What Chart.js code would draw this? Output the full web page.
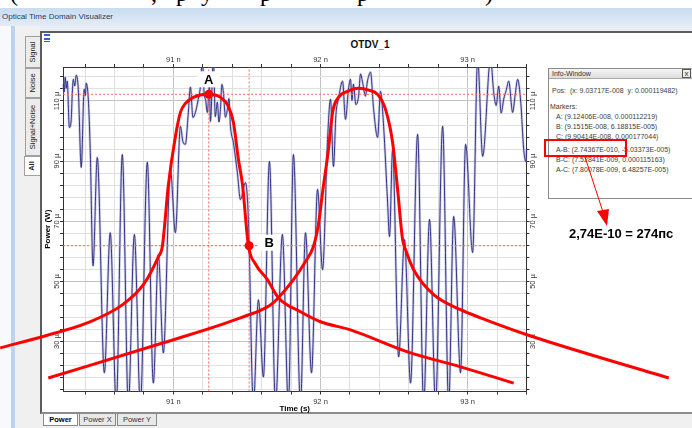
<!DOCTYPE html>
<html>
<head>
<meta charset="utf-8">
<script src="https://cdn.jsdelivr.net/npm/chart.js@4.4.0/dist/chart.umd.min.js"></script>
<style>
* { box-sizing: border-box; }
body { margin: 0; width: 692px; height: 428px; overflow: hidden; background: #fff; position: relative; font-family: "Liberation Sans", Arial, sans-serif; }
.a { position: absolute; }
#doc span { position: absolute; top: -19px; font: 24px/24px "Liberation Serif", serif; color: #000; }
#bar { left: 0; top: 8px; width: 692px; height: 18px; background: linear-gradient(#c9dcf0, #e3ecf7); font-size: 8px; line-height: 18px; color: #1e3d6b; padding-left: 2px; z-index: 2; }
#under { left: 0; top: 26px; width: 692px; height: 402px; background: #e9eef5; }
#lwhite { left: 0; top: 26px; width: 11px; height: 402px; background: #f7f9fc; }
#lblue { left: 11px; top: 26px; width: 4px; height: 402px; background: #bcd3ec; }
#tabs { left: 15px; top: 26px; width: 25px; height: 402px; background: #f0f0f0; }
.vt { position: absolute; left: 25px; height: 15px; transform: rotate(-90deg); transform-origin: 0 0; border: 1px solid #a0a0a0; border-bottom: none; background: #ececec; font-size: 7.5px; line-height: 13px; text-align: center; color: #222; white-space: nowrap; }
#frame { left: 40px; top: 31px; width: 652px; height: 383px; background: #fff; border-left: 2px solid #5c5c5c; border-top: 2px solid #5c5c5c; border-bottom: 2px solid #8c8c8c; }
#icon { left: 44px; top: 34px; width: 6px; height: 8px; background: linear-gradient(#3a5fd0 0 30%, #fff 30% 45%, #3a5fd0 45% 75%, #fff 75% 85%, #3a5fd0 85%); }
#ttl { left: 330px; top: 39px; width: 80px; text-align: center; font-weight: bold; font-size: 10px; line-height: 12px; color: #111; }
#btabs { left: 40px; top: 414px; width: 652px; height: 14px; background: #f0f0f0; }
.bt { position: absolute; top: 414px; height: 12px; border: 1px solid #8a8a8a; border-top: none; background: #e8e8e8; font-size: 7.5px; line-height: 11px; text-align: center; color: #333; }
#chart { position: absolute; left: 0; top: 0; z-index: 5; }
#info { left: 548px; top: 68px; width: 150px; height: 131px; border: 1px solid #8a8a8a; background: #fff; z-index: 6; }
#infot { position: absolute; left: 0; top: 0; width: 100%; height: 10px; background: linear-gradient(#f6f6f6, #dcdcdc); border-bottom: 1px solid #aaa; font-size: 7px; line-height: 10px; padding-left: 3px; color: #333; }
#infox { position: absolute; left: 133px; top: 0px; width: 9px; height: 9px; border: 1px solid #555; font-size: 8px; line-height: 7px; text-align: center; color: #333; background: #eee; }
.il { position: absolute; height: 9px; line-height: 9px; font-size: 7px; white-space: nowrap; color: #3c3c3c; }
#rbox { left: 544px; top: 139px; width: 83px; height: 18px; border: 2.5px solid #f00; z-index: 7; }
#arrow { left: 0; top: 0; z-index: 7; }
#note { left: 569px; top: 226px; font-weight: bold; font-size: 13px; line-height: 16px; color: #000; z-index: 7; white-space: nowrap; }
</style>
</head>
<body>
<div id="doc" class="a" style="left:0;top:0;width:692px;height:8px;overflow:hidden">
  <span style="left:10px">(</span><span style="left:151px">,</span><span style="left:176px">р</span><span style="left:201px">у</span><span style="left:260px">р</span><span style="left:357px">р</span><span style="left:485px">)</span>
</div>
<div id="bar" class="a">Optical Time Domain Visualizer</div>
<div id="under" class="a"></div>
<div id="lwhite" class="a"></div>
<div id="lblue" class="a"></div>
<div id="tabs" class="a"></div>
<div class="vt" style="top:68px;width:32px">Signal</div>
<div class="vt" style="top:98px;width:30px">Noise</div>
<div class="vt" style="top:156px;width:58px">Signal+Noise</div>
<div class="vt" style="top:176px;width:20px;background:#fff;font-weight:bold;left:24px;height:16px">All</div>
<div id="frame" class="a"></div>
<div id="icon" class="a"></div>
<div id="ttl" class="a">OTDV_1</div>
<div id="btabs" class="a"></div>
<div class="bt" style="left:43px;width:35px;background:#fff;font-weight:bold;color:#000">Power</div>
<div class="bt" style="left:79px;width:37px">Power X</div>
<div class="bt" style="left:117px;width:40px">Power Y</div>

<canvas id="chart" width="692" height="428"></canvas>

<div id="info" class="a">
  <div id="infot">Info-Window</div>
  <div id="infox">x</div>
  <div class="il" style="left:3px;top:17px">Pos:&nbsp; (x: 9.03717E-008&nbsp; y: 0.000119482)</div>
  <div class="il" style="left:1px;top:33px">Markers:</div>
  <div class="il" style="left:7px;top:43px">A: (9.12406E-008, 0.000112219)</div>
  <div class="il" style="left:7px;top:53px">B: (9.1515E-008, 6.18815E-005)</div>
  <div class="il" style="left:7px;top:63px">C: (9.90414E-008, 0.000177044)</div>
  <div class="il" style="left:7px;top:76px">A-B: (2.74367E-010, -5.03373E-005)</div>
  <div class="il" style="left:7px;top:86px">B-C: (7.52841E-009, 0.000115163)</div>
  <div class="il" style="left:7px;top:96px">A-C: (7.80078E-009, 6.48257E-005)</div>
</div>
<div id="rbox" class="a"></div>
<svg id="arrow" class="a" width="692" height="428">
  <line x1="585" y1="157" x2="603" y2="212" stroke="#f00" stroke-width="1"/>
  <polygon points="597,211 609,209 607,226" fill="#f00"/>
</svg>
<div id="note" class="a">2,74E-10 = 274пс</div>

<script>
// measured trace, time in ns, power in µW
const sigT = [90.252, 90.258, 90.265, 90.272, 90.279, 90.293, 90.306, 90.313, 90.320, 90.330, 90.340, 90.354, 90.374, 90.394, 90.401, 90.408, 90.422, 90.435, 90.454,
  90.483, 90.531, 90.571, 90.612, 90.653, 90.694, 90.735, 90.776, 90.823, 90.864, 90.898, 90.932, 90.980, 91.014,
  91.048, 91.065, 91.082, 91.100, 91.116, 91.133, 91.150, 91.167, 91.184, 91.197, 91.210, 91.218, 91.231, 91.245, 91.252, 91.272, 91.285, 91.299, 91.310, 91.320, 91.330, 91.340, 91.354, 91.367,
  91.378, 91.388, 91.408, 91.435, 91.456, 91.490, 91.510, 91.544, 91.578, 91.612, 91.653, 91.694, 91.741, 91.782, 91.816,
  91.864, 91.898, 91.939, 91.980, 92.014, 92.048, 92.068, 92.088, 92.105, 92.122, 92.150, 92.170, 92.190, 92.204, 92.214, 92.224,
  92.240, 92.259, 92.272, 92.286, 92.306, 92.317, 92.327, 92.340, 92.361, 92.388, 92.408, 92.429, 92.456, 92.469, 92.490, 92.531, 92.571,
  92.612, 92.660, 92.701, 92.741, 92.782, 92.830, 92.871, 92.905, 92.952, 92.986, 93.034, 93.068, 93.102, 93.156,
  93.177, 93.194, 93.211, 93.228, 93.245, 93.262, 93.279, 93.306, 93.323, 93.340, 93.361, 93.381, 93.395, 93.401];
const sigP = [115.6, 113.0, 117.9, 114.2, 116.6, 101.2, 103.9, 112.5, 117.2, 115.0, 118.6, 113.9, 87.9, 113.9, 111.8, 115.9, 110.6, 93.9, 55.2,
  91.2, 19.6, 66.2, 9, 92.2, 9, 65.6, 9, 89.6, 16.2, 58.9, 26.2, 87.2, 66.2,
  101.6, 96.5, 95.6, 105.0, 114.6, 104.5, 106.2, 110.0, 114.9, 124, 112.0, 110.6, 106.2, 115.2, 103.2, 124, 104.8, 109.6, 103.0, 107.2, 115.5, 112.9, 104.6, 107.2,
  110.8, 101.6, 96.2, 86.2, 77.2, 82.9, 70.6, 9, 43.9, 18.2, 89.9, 9, 65.6, 9, 92.2,
  9, 66.2, 19.6, 80.6, 53.9, 97.2, 110.6, 88.2, 105.5, 110.6, 116.6, 103.9, 113.9, 117.2, 110.2, 115.6,
  108.8, 111.6, 119.0, 116.2, 111.6, 116.0, 118.2, 119.6, 107.2, 97.9, 113.2, 101.6, 76.2, 64.9, 93.9, 24.9, 63.9,
  16.2, 98.9, 9, 70.6, 9, 101.6, 9, 71.6, 19.6, 95.6, 59.6, 124, 91.6, 124,
  112.9, 108.5, 114.9, 106.0, 110.6, 113.5, 116.6, 106.2, 112.0, 117.2, 109.6, 93.9, 89.9, 93.9];

// hand-drawn red envelopes
const curve1T = [89.823, 90.150, 90.415, 90.653, 90.796, 90.898, 90.925, 90.966, 91.014, 91.048, 91.082, 91.136, 91.231,
  91.320, 91.374, 91.408, 91.442, 91.469, 91.510, 91.558, 91.639, 91.714, 91.864, 92.000, 92.204, 92.592, 92.952, 93.313];
const curve1P = [27.9, 32.2, 36.2, 42.2, 48.9, 58.2, 61.6, 82.0, 98.2, 106.2, 109.2, 111.2, 112.2,
  111.2, 108.2, 102.9, 90.6, 82.5, 61.9, 55.8, 50.6, 44.6, 39.9, 36.6, 33.9, 26.6, 21.6, 16.2];
const curve2T = [90.150, 90.932, 91.456, 91.660, 91.714, 91.816, 91.898, 91.952, 91.986, 92.014, 92.054, 92.082, 92.122,
  92.184, 92.259, 92.327, 92.388, 92.442, 92.490, 92.524, 92.558, 92.578, 92.633, 92.769, 92.952, 93.088, 93.408, 94.367];
const curve2P = [17.9, 29.6, 37.9, 42.2, 44.6, 50.6, 56.6, 61.6, 68.9, 79.6, 93.9, 106.2, 111.2,
  113.2, 114.2, 113.6, 112.2, 107.2, 96.2, 80.6, 63.9, 60.6, 53.9, 45.6, 40.6, 37.9, 32.2, 17.9];

const markerNames = ['A', 'B'];
const markerT = [91.2406, 91.515];
const markerP = [112.219, 61.8815];

const xMajor = [91, 92, 93];
const yMajor = [30, 50, 70, 90, 110];
const xRange = [90.25, 93.4];
const yRange = [13.4, 121.3];

const xGrid = [];
for (let k = 452; k <= 467; k++) xGrid.push(k / 5);
const yGrid = [];
for (let v = 14; v <= 118; v += 4) yGrid.push(v);

const labelOffsets = [[0, -15], [20, -3]];

const pts = (t, p) => t.map((v, i) => ({ x: v, y: p[i] }));
const isMajor = (list, v) => list.some(m => Math.abs(m - v) < 1e-6);

Chart.defaults.font.family = '"Liberation Sans", Arial, sans-serif';

function xScale(pos) {
  return {
    type: 'linear', position: pos, bounds: 'data',
    afterDataLimits: s => { s.min = xRange[0]; s.max = xRange[1]; },
    afterBuildTicks: s => { s.ticks = xGrid.map(v => ({ value: v })); },
    afterFit: s => { s.height = pos === 'top' ? 67 : 22.5; },
    grid: {
      drawOnChartArea: pos === 'bottom',
      color: c => isMajor(xMajor, c.tick.value) ? '#c2c2c2' : '#e0e0e0',
      tickColor: '#333', tickLength: 3
    },
    border: { color: '#333' },
    ticks: {
      autoSkip: false, maxRotation: 0, padding: pos === 'top' ? 0 : 2.7, color: '#333', font: { size: 7.5 },
      callback: v => isMajor(xMajor, v) ? Math.round(v) + ' n' : ''
    },
    title: pos === 'bottom'
      ? { display: true, text: 'Time (s)', color: '#000', font: { size: 8, weight: 'bold' }, padding: 0 }
      : { display: false }
  };
}

function yScale(pos) {
  return {
    type: 'linear', position: pos, min: yRange[0], max: yRange[1],
    afterBuildTicks: s => { s.ticks = yGrid.map(v => ({ value: v })); },
    afterFit: s => { s.width = pos === 'left' ? 23 : 165.5; },
    grid: {
      drawOnChartArea: pos === 'left',
      color: c => isMajor(yMajor, c.tick.value) ? '#c2c2c2' : '#e0e0e0',
      tickColor: '#333', tickLength: 3
    },
    border: { color: '#333' },
    ticks: {
      autoSkip: false, minRotation: 90, maxRotation: 90, crossAlign: 'center',
      padding: pos === 'left' ? -5.8 : -5.5, color: '#333', font: { size: 7.5 },
      callback: v => isMajor(yMajor, v) ? v + ' µ' : ''
    },
    title: pos === 'left'
      ? { display: true, text: 'Power (W)', color: '#000', font: { size: 8, weight: 'bold' }, padding: { top: 2.5 } }
      : { display: false }
  };
}

const crossLines = [];
markerT.forEach((t, i) => {
  crossLines.push({ data: [{ x: xRange[0], y: markerP[i] }, { x: xRange[1], y: markerP[i] }] });
  crossLines.push({ data: [{ x: t, y: yRange[0] }, { x: t, y: yRange[1] }] });
});

const markerLabels = {
  id: 'markerLabels',
  afterDatasetsDraw(chart) {
    const meta = chart.getDatasetMeta(0);
    const ctx = chart.ctx;
    ctx.save();
    ctx.font = 'bold 13px "Liberation Sans", Arial';
    ctx.textAlign = 'center';
    ctx.textBaseline = 'middle';
    meta.data.forEach((pt, i) => {
      const cx = pt.x + labelOffsets[i][0];
      const cy = pt.y + labelOffsets[i][1];
      ctx.fillStyle = '#fff';
      ctx.fillRect(cx - 11, cy - 8, 22, 16);
      ctx.fillStyle = '#000';
      ctx.fillText(markerNames[i], cx, cy + 1);
    });
    ctx.restore();
  }
};

new Chart(document.getElementById('chart').getContext('2d'), {
  type: 'line',
  data: {
    datasets: [
      { data: pts(markerT, markerP), showLine: false, pointRadius: 4.5, pointBackgroundColor: '#ff0000', pointBorderWidth: 0, clip: false },
      { data: pts(curve1T, curve1P), borderColor: '#ff0000', borderWidth: 3, pointRadius: 0, cubicInterpolationMode: 'monotone', clip: false },
      { data: pts(curve2T, curve2P), borderColor: '#ff0000', borderWidth: 3, pointRadius: 0, cubicInterpolationMode: 'monotone', clip: false },
      ...crossLines.map(l => ({ data: l.data, borderColor: '#ff6464', borderWidth: 1, borderDash: [2, 2], pointRadius: 0 })),
      { data: pts(sigT, sigP), borderColor: '#24247c', borderWidth: 0.9, pointRadius: 0, cubicInterpolationMode: 'monotone' },
      { data: pts(sigT, sigP), borderColor: 'rgba(150,150,200,0.45)', borderWidth: 2.6, pointRadius: 0, cubicInterpolationMode: 'monotone' }
    ]
  },
  options: {
    responsive: false,
    animation: false,
    layout: { padding: { left: 40, right: 0, top: 0, bottom: 14 } },
    plugins: { legend: { display: false }, tooltip: { enabled: false } },
    scales: {
      x: xScale('bottom'),
      x2: xScale('top'),
      y: yScale('left'),
      y2: yScale('right')
    }
  },
  plugins: [markerLabels]
});
</script>
</body>
</html>
